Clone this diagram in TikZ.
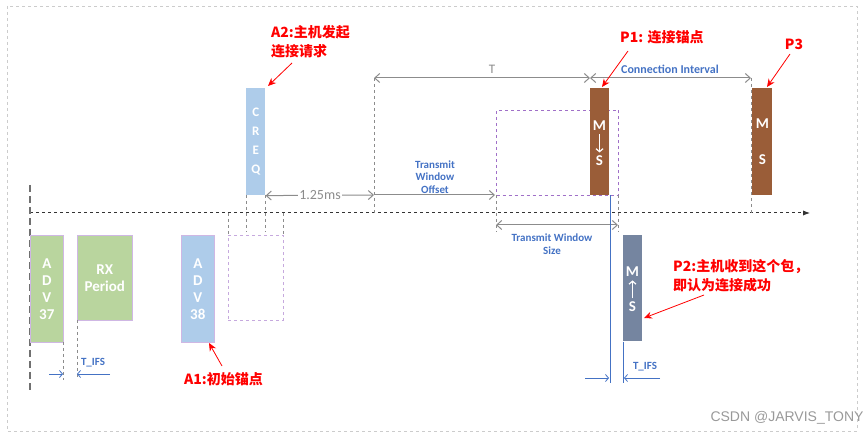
\documentclass[tikz,border=0pt]{standalone}
\usepackage{fontspec}
\setmainfont{Carlito}
\newfontfamily\cjk{Noto Sans CJK SC}
\usetikzlibrary{arrows.meta}
\definecolor{grn}{HTML}{B9D59E}
\definecolor{blu}{HTML}{AECCEA}
\definecolor{brn}{HTML}{9A5D38}
\definecolor{gry}{HTML}{7585A0}
\definecolor{lbl}{HTML}{4472C4}
\definecolor{pur}{HTML}{A070C8}
\definecolor{dg}{HTML}{8C8C8C}
\begin{document}
\begin{tikzpicture}[x=1pt,y=-1pt,
  pkt/.style={draw=pur!50,line width=0.6pt,text=white,font=\bfseries\fontsize{15}{17}\selectfont,align=center,inner sep=0pt},
  gdash/.style={draw=dg,dashed,line width=0.8pt},
  garr/.style={draw=dg,line width=1pt,{Straight Barb[length=5pt,width=9pt]}-{Straight Barb[length=5pt,width=9pt]}},
  barr/.style={draw=lbl,line width=0.8pt,-{Straight Barb[length=3pt,width=7pt]}},
  warr/.style={draw=white,line width=1.2pt,-{Straight Barb[length=3pt,width=7pt]}},
  blab/.style={text=lbl,font=\bfseries\fontsize{12}{13}\selectfont,align=center,inner sep=1pt},
  rlab/.style={text=red,font=\cjk\bfseries\fontsize{14}{19}\selectfont,align=left,inner sep=0pt},
  rarr/.style={draw=red,line width=0.8pt,-{Stealth[length=8pt,width=7pt]}}]
\useasboundingbox (0,0) rectangle (865,438);
\draw[gray!40,dashed] (7,6) rectangle (857,431);
% timeline
\draw[black!80,dashed,line width=1pt,-{Latex[length=7pt]}] (30,213) -- (810,213);
\draw[dg!80!black,line width=1.2pt,dash pattern=on 7pt off 4pt] (30,185) -- (30,393);
% left packets
\node[pkt,fill=grn,minimum width=33pt,minimum height=107pt,anchor=north west] (adv37) at (30,235) {A\\D\\V\\37};
\node[pkt,fill=grn,minimum width=55pt,minimum height=85pt,anchor=north west] (rx) at (77,235) {RX\\Period};
\node[pkt,fill=blu,minimum width=33pt,minimum height=107pt,anchor=north west] (adv38) at (181,235) {A\\D\\V\\38};
\node[draw=pur!60,dashed,minimum width=55pt,minimum height=85pt,anchor=north west,inner sep=0pt] (ghost) at (228,235) {};
\draw[gdash] (228,213) -- (228,235); \draw[gdash] (283,213) -- (283,235);
% CREQ
\node[pkt,draw=none,fill=blu,minimum width=19pt,minimum height=107pt,anchor=north west,font=\bfseries\fontsize{13}{19}\selectfont] (creq) at (246,88) {C\\R\\E\\Q};
\draw[gdash] (246,195) -- (246,232); \draw[gdash] (265,195) -- (265,232);
\coordinate (c125) at (374,195);
\draw[garr] (creq.south east) -- (c125);
\node[fill=white,text=dg,font=\fontsize{14}{15}\selectfont,inner sep=1pt] at (320,195) {1.25ms};
% T
\draw[gdash] (374,78) -- (374,213);
\coordinate (t0) at (374,78); \coordinate (t1) at (590,78); \coordinate (ci1) at (751,78);
\draw[garr] (t0) -- (t1);
\node[text=dg,font=\fontsize{13}{14}\selectfont] at (492,69) {T};
\draw[garr] (t1) -- (ci1);
\node[blab] at (670,69) {Connection Interval};
\draw[gdash] (751,78) -- (751,213);
% offset
\coordinate (o1) at (495,195);
\draw[draw=dg,line width=1pt,-{Straight Barb[length=5pt,width=9pt]}] (c125) -- (o1);
\node[blab,font=\bfseries\fontsize{11}{12.5}\selectfont] at (435,177) {Transmit\\Window\\Offset};
% window
\node[draw=pur,dashed,line width=1pt,minimum width=122pt,minimum height=85pt,anchor=north west,inner sep=0pt] (win) at (496,110) {};
\draw[gdash] (496,195) -- (496,232); \draw[gdash] (618,195) -- (618,232);
\coordinate (w0) at (496,225); \coordinate (w1) at (618,225);
\draw[garr] (w0) -- (w1);
\node[blab,font=\bfseries\fontsize{11}{12.5}\selectfont] at (552,244) {Transmit Window\\Size};
% M<->S packets
\node[pkt,draw=none,fill=brn,minimum width=19pt,minimum height=107pt,anchor=north west] (p1) at (590,88) {};
\node[text=white,font=\bfseries\fontsize{15}{17}\selectfont] (p1m) at (599.5,126) {M};
\node[text=white,font=\bfseries\fontsize{15}{17}\selectfont] (p1s) at (599.5,161) {S};
\draw[warr] (p1m.south) -- (p1s.north);
\node[pkt,draw=none,fill=brn,minimum width=20pt,minimum height=107pt,anchor=north west,font=\bfseries\fontsize{15}{36}\selectfont] (p3) at (752,88) {M\\S};
\node[pkt,draw=none,fill=gry,minimum width=19pt,minimum height=106pt,anchor=north west] (p2) at (623,235) {};
\node[text=white,font=\bfseries\fontsize{15}{17}\selectfont] (p2m) at (632.5,272) {M};
\node[text=white,font=\bfseries\fontsize{15}{17}\selectfont] (p2s) at (632.5,307) {S};
\draw[warr] (p2s.north) -- (p2m.south);
\draw[lbl,line width=0.8pt] (610,195) -- (610,383);
\draw[lbl,line width=0.8pt] (p2.south west) -- (623,383);
% T_IFS right
\coordinate (r1) at (585,378); \coordinate (r2) at (609,378);
\coordinate (r3) at (660,378); \coordinate (r4) at (624,378);
\draw[barr] (r1) -- (r2); \draw[barr] (r3) -- (r4);
\node[blab,font=\bfseries\fontsize{11}{12}\selectfont] at (645,367) {T\_IFS};
% T_IFS left
\draw[gdash] (63,342) -- (63,380); \draw[gdash] (77,320) -- (77,380);
\coordinate (l1) at (49,374); \coordinate (l2) at (63,374);
\coordinate (l3) at (110,374); \coordinate (l4) at (77,374);
\draw[barr] (l1) -- (l2); \draw[barr] (l3) -- (l4);
\node[blab,font=\bfseries\fontsize{11}{12}\selectfont] at (93,363) {T\_IFS};
% red labels
\node[rlab,anchor=north west] (a2) at (271,25) {A2:主机发起\\连接请求};
\coordinate (a2s) at (292,63); \draw[rarr] (a2s) -- (268,86);
\node[rlab,anchor=north west] (pp1) at (620,30) {P1: 连接锚点};
\coordinate (p1a) at (628,51); \draw[rarr] (p1a) -- (602,87);
\node[rlab] (pp3) at (794,44) {P3};
\coordinate (p3a) at (790,54); \draw[rarr] (p3a) -- (767,87);
\node[rlab,anchor=north west] (a1) at (184,372) {A1:初始锚点};
\coordinate (a1a) at (222,366); \draw[rarr] (a1a) -- (209,343);
\node[rlab,anchor=north west] (pp2) at (673,259) {P2:主机收到这个包，\\即认为连接成功};
\coordinate (p2a) at (704,295); \draw[rarr] (p2a) -- (644,318);
\node[text=gray!80,font=\fontspec{Liberation Sans}\fontsize{14}{15}\selectfont] at (787,418) {CSDN @JARVIS\_TONY};
\end{tikzpicture}
\end{document}
